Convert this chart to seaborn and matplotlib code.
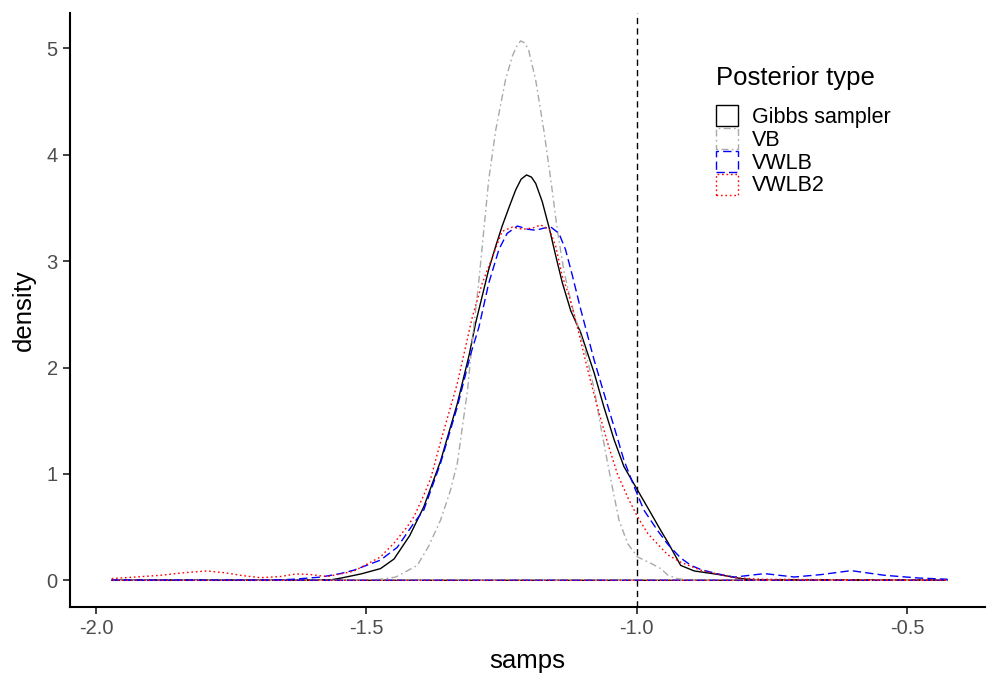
import numpy as np
import pandas as pd
import matplotlib
matplotlib.use("Agg")
import matplotlib.pyplot as plt
from matplotlib.patches import Patch
import seaborn as sns

# ---------------- data ----------------
types = ["Gibbs sampler", "VB", "VWLB", "VWLB2"]

gibbs_x = [-1.971, -1.600, -1.567, -1.548, -1.510, -1.474, -1.449, -1.420, -1.394, -1.363,
           -1.332, -1.310, -1.298, -1.286, -1.274, -1.261, -1.249, -1.236, -1.224, -1.214,
           -1.204, -1.195, -1.187, -1.175, -1.162, -1.150, -1.138, -1.122, -1.104, -1.079,
           -1.061, -1.042, -1.024, -0.999, -0.974, -0.956, -0.943, -0.919, -0.894, -0.851,
           -0.807, -0.780, -0.4265]
gibbs_y = [0.0, 0.0, 0.003, 0.02, 0.06, 0.11, 0.20, 0.42, 0.69, 1.12,
           1.66, 2.12, 2.42, 2.67, 2.92, 3.14, 3.33, 3.51, 3.67, 3.77,
           3.81, 3.79, 3.73, 3.56, 3.31, 3.05, 2.80, 2.53, 2.33, 1.95,
           1.63, 1.32, 1.07, 0.85, 0.63, 0.47, 0.36, 0.14, 0.088, 0.056,
           0.016, 0.003, 0.0]

vb_x = [-1.971, -1.560, -1.500, -1.474, -1.446, -1.406, -1.385, -1.363, -1.345, -1.332,
        -1.313, -1.301, -1.292, -1.283, -1.274, -1.261, -1.243, -1.230, -1.222, -1.215,
        -1.207, -1.200, -1.187, -1.172, -1.159, -1.147, -1.135, -1.122, -1.110, -1.094,
        -1.079, -1.067, -1.048, -1.033, -1.017, -0.999, -0.974, -0.956, -0.943, -0.925,
        -0.900, -0.4265]
vb_y = [0.0, 0.0, 0.003, 0.01, 0.03, 0.14, 0.32, 0.565, 0.84, 1.10,
        1.79, 2.41, 2.82, 3.29, 3.76, 4.23, 4.70, 4.93, 5.02, 5.07,
        5.05, 4.98, 4.70, 4.23, 3.76, 3.29, 2.91, 2.62, 2.40, 2.13,
        1.80, 1.45, 0.94, 0.565, 0.345, 0.22, 0.16, 0.11, 0.05, 0.015,
        0.0, 0.0]

vwlb_x = [-1.971, -1.680, -1.635, -1.585, -1.548, -1.524, -1.474, -1.443, -1.412, -1.394,
          -1.363, -1.332, -1.307, -1.292, -1.274, -1.255, -1.240, -1.221, -1.202, -1.187,
          -1.172, -1.159, -1.144, -1.132, -1.119, -1.104, -1.079, -1.061, -1.042, -1.024,
          -1.005, -0.987, -0.962, -0.943, -0.919, -0.900, -0.881, -0.850, -0.820, -0.764,
          -0.709, -0.659, -0.604, -0.542, -0.480, -0.4265]
vwlb_y = [0.0, 0.0, 0.01, 0.03, 0.063, 0.094, 0.19, 0.31, 0.54, 0.66,
          1.10, 1.63, 2.13, 2.38, 2.79, 3.11, 3.26, 3.33, 3.30, 3.29,
          3.31, 3.32, 3.26, 3.11, 2.86, 2.55, 2.07, 1.76, 1.44, 1.13,
          0.88, 0.66, 0.47, 0.34, 0.21, 0.14, 0.10, 0.06, 0.03, 0.063,
          0.031, 0.054, 0.091, 0.047, 0.022, 0.01]

vwlb2_x = [-1.971, -1.930, -1.881, -1.840, -1.795, -1.760, -1.730, -1.696, -1.660, -1.630,
           -1.605, -1.573, -1.548, -1.524, -1.474, -1.449, -1.425, -1.412, -1.394, -1.381,
           -1.363, -1.332, -1.304, -1.286, -1.267, -1.249, -1.230, -1.212, -1.193, -1.178,
           -1.162, -1.150, -1.138, -1.125, -1.110, -1.091, -1.073, -1.054, -1.036, -1.017,
           -0.999, -0.980, -0.956, -0.943, -0.919, -0.881, -0.820, -0.770, -0.4265]
vwlb2_y = [0.016, 0.03, 0.047, 0.07, 0.088, 0.07, 0.045, 0.025, 0.035, 0.06,
           0.055, 0.035, 0.06, 0.085, 0.22, 0.35, 0.50, 0.60, 0.80, 0.96,
           1.30, 1.85, 2.48, 2.79, 3.04, 3.28, 3.32, 3.30, 3.31, 3.34,
           3.30, 3.14, 2.86, 2.67, 2.38, 1.98, 1.63, 1.29, 1.00, 0.78,
           0.60, 0.44, 0.31, 0.24, 0.17, 0.094, 0.025, 0.01, 0.0]

true_value = -1.0

series = {
    "Gibbs sampler": (gibbs_x, gibbs_y),
    "VB": (vb_x, vb_y),
    "VWLB": (vwlb_x, vwlb_y),
    "VWLB2": (vwlb2_x, vwlb2_y),
}

# long table; each density outline is closed along the baseline like geom_density
rows = []
for name in types:
    xs, ys = series[name]
    px = list(xs) + [xs[-1], xs[0]]
    py = list(ys) + [0.0, 0.0]
    for a, b in zip(px, py):
        rows.append({"samps": a, "density": b, "type": name})
df = pd.DataFrame(rows)

# ---------------- styling ----------------
sns.set_style("ticks")
plt.rcParams["font.family"] = ["Liberation Sans", "DejaVu Sans"]
plt.rcParams["text.color"] = "black"

colors = {"Gibbs sampler": "black", "VB": "#A9A9A9", "VWLB": "#0000FF", "VWLB2": "#FF0000"}
dash_map = {"Gibbs sampler": "", "VB": (1.2, 2.4, 5, 2.4), "VWLB": (6, 3), "VWLB2": (1.2, 2)}
mpl_ls = {"Gibbs sampler": "-", "VB": (0, (1.2, 2.4, 5, 2.4)),
          "VWLB": (0, (6, 3)), "VWLB2": (0, (1.2, 2))}

fig = plt.figure(figsize=(10, 6.86), dpi=100)
ax = fig.add_axes([0.07, 1 - 606.7 / 686, 0.915, (606.7 - 13) / 686])

sns.lineplot(data=df, x="samps", y="density", hue="type", style="type",
             hue_order=types, style_order=types, palette=colors, dashes=dash_map,
             units="type", estimator=None, sort=False, linewidth=1.0,
             legend=False, ax=ax)

ax.axvline(true_value, color="black", linestyle=(0, (4.5, 3)), linewidth=1.0, zorder=0.5)

ax.set_xlim(-2.048, -0.3564)
ax.set_ylim(-0.248, 5.332)
ax.set_xticks([-2.0, -1.5, -1.0, -0.5])
ax.set_xticklabels(["-2.0", "-1.5", "-1.0", "-0.5"])
ax.set_yticks([0, 1, 2, 3, 4, 5])

for s in ["top", "right"]:
    ax.spines[s].set_visible(False)
for s in ["left", "bottom"]:
    ax.spines[s].set_linewidth(1.5)
    ax.spines[s].set_color("black")

ax.tick_params(axis="both", length=4.8, width=1.3, color="#333333",
               labelsize=14.5, labelcolor="#4D4D4D", pad=4)
ax.set_xlabel("samps", fontsize=18.5, color="black", labelpad=8)
ax.set_ylabel("density", fontsize=18.5, color="black", labelpad=8)
ax.grid(False)

handles = [Patch(facecolor="white", edgecolor=colors[t], linestyle=mpl_ls[t],
                 linewidth=1.0, label=t) for t in types]
leg = ax.legend(handles=handles, title="Posterior type", loc="upper left",
                bbox_to_anchor=(716 / 1000, 1 - 66 / 686), bbox_transform=fig.transFigure,
                frameon=False, fontsize=15.5, title_fontsize=18.5,
                handlelength=1.0, handleheight=1.12, handletextpad=0.65,
                labelspacing=0.0, borderpad=0, borderaxespad=0, alignment="left")
leg.get_title().set_color("black")
for t in leg.get_texts():
    t.set_color("black")
leg._legend_box.sep = 11

fig.savefig("out.png", dpi=100, facecolor="white")
